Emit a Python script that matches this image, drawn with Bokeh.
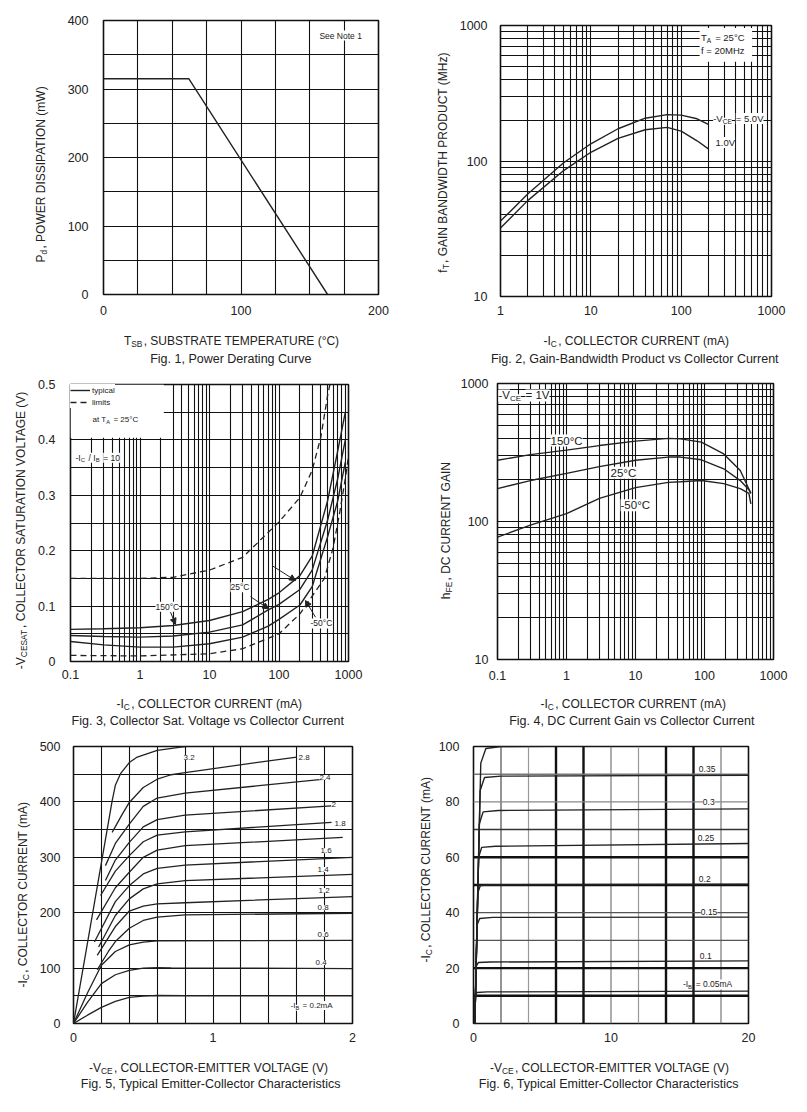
import math
from bokeh.plotting import figure
from bokeh.layouts import column, row
from bokeh.models import (Range1d, FixedTicker, CustomJSTickFormatter, Label, Arrow,
                          NormalHead, Legend, LegendItem, Span, BoxAnnotation)
from bokeh.core.properties import value
from bokeh.embed import file_html
from bokeh.resources import INLINE

FONT = "Liberation Sans"
INK = "#222222"
GRID = "#111111"

# ---------------- data ----------------
# Fig. 1  power derating
fig1_temp = [0, 62, 163]
fig1_pd = [315, 315, 0]
fig1_xticks = [0, 100, 200]
fig1_yticks = [0, 100, 200, 300, 400]

# Fig. 2  gain-bandwidth product
fig2_ic = [1, 2, 5, 10, 20, 40, 70, 100, 150, 200]
fig2_ft_5v = [36, 57, 97, 134, 173, 207, 220, 218, 205, 186]
fig2_ft_1v = [32, 51, 85, 116, 147, 170, 177, 166, 141, 123]
fig2_xticks = [1, 10, 100, 1000]
fig2_yticks = [10, 100, 1000]

# Fig. 3  collector saturation voltage
fig3_ic = [0.1, 0.3, 1, 3, 10, 30, 70, 100, 200, 300, 500, 700, 900]
fig3_v150 = [0.058, 0.059, 0.061, 0.065, 0.074, 0.090, 0.112, 0.124, 0.155, 0.190, 0.290, 0.380, 0.450]
fig3_v25 = [0.047, 0.045, 0.044, 0.046, 0.053, 0.066, 0.093, 0.103, 0.130, 0.165, 0.255, 0.330, 0.400]
fig3_vm50 = [0.036, 0.030, 0.026, 0.026, 0.032, 0.044, 0.064, 0.076, 0.102, 0.135, 0.225, 0.290, 0.360]
fig3_ic_max = [0.1, 1, 3, 10, 30, 100, 200, 300, 400, 500, 540]
fig3_v_max = [0.150, 0.150, 0.152, 0.165, 0.188, 0.252, 0.296, 0.345, 0.405, 0.480, 0.500]
fig3_ic_min = [0.1, 1, 10, 30, 100, 200, 300, 450, 600, 750, 900, 1000]
fig3_v_min = [0.011, 0.010, 0.014, 0.023, 0.050, 0.086, 0.118, 0.150, 0.205, 0.270, 0.330, 0.370]
fig3_xticks = [0.1, 1, 10, 100, 1000]
fig3_yticks = [0, 0.1, 0.2, 0.3, 0.4, 0.5]
fig3_arrow_from = [(2.75, 0.089), (38.9, 0.117), (79.8, 0.173), (335, 0.080)]
fig3_arrow_to = [(3.24, 0.067), (71, 0.095), (173, 0.146), (240, 0.110)]

# Fig. 4  DC current gain
fig4_ic = [0.1, 0.3, 1, 3, 10, 30, 45, 90, 190, 330, 440, 470]
fig4_h150 = [278, 305, 329, 355, 382, 400, 397, 376, 309, 234, 172, 160]
fig4_h25 = [173, 198, 223, 250, 278, 293, 293, 280, 241, 198, 170, 160]
fig4_hm50 = [77, 94, 114, 147, 176, 192, 194, 198, 188, 173, 160, 134]
fig4_xticks = [0.1, 1, 10, 100, 1000]
fig4_yticks = [10, 100, 1000]

# Fig. 5  output characteristics 0-2 V (IB in mA)
fig5_vce = [
    [0, 0.1, 0.2, 0.3, 0.4, 0.5, 0.6, 1.0, 2.0],
    [0, 0.1, 0.2, 0.3, 0.4, 0.5, 0.6, 0.7, 2.0],
    [0, 0.1, 0.2, 0.3, 0.4, 0.5, 0.6, 2.0],
    [0.17, 0.25, 0.3, 0.4, 0.5, 0.6, 0.8, 2.0],
    [0.17, 0.3, 0.4, 0.5, 0.6, 0.8, 2.0],
    [0.18, 0.3, 0.4, 0.5, 0.6, 0.8, 2.0],
    [0.15, 0.3, 0.4, 0.5, 0.6, 0.8, 2.0],
    [0.165, 0.3, 0.4, 0.5, 0.6, 0.8, 1.93],
    [0.194, 0.3, 0.4, 0.5, 0.6, 0.8, 1.85],
    [0.229, 0.3, 0.4, 0.5, 0.6, 0.8, 1.85],
    [0.229, 0.3, 0.4, 0.5, 0.6, 0.8, 1.8],
    [0.277, 0.35, 0.4, 0.5, 0.6, 0.7, 0.8, 1.6],
    [0, 0.277, 0.3, 0.337, 0.4, 0.457, 0.6, 0.77, 0.8],
]
fig5_ic = [
    [0, 15, 29, 40, 47, 49.5, 50.5, 50, 50],
    [0, 38, 72, 88, 96, 100, 101, 100.5, 99],
    [0, 55, 105, 130, 142, 147, 149, 150],
    [97, 130, 148, 172, 186, 192, 196, 199],
    [123, 175, 203, 212, 216, 218, 229],
    [138, 195, 225, 243, 252, 258, 269],
    [147, 220, 249, 270, 280, 286, 300],
    [187, 245, 273, 300, 313, 321, 336],
    [231, 275, 303, 328, 340, 346, 363],
    [258, 295, 327, 355, 368, 376, 393],
    [285, 325, 360, 392, 407, 416, 441],
    [345, 378, 399, 426, 441, 449, 453, 481],
    [0, 402, 430, 451, 471, 481, 493, 499, 500],
]
fig5_labels = ["3.2", "2.8", "2.4", "2", "1.8", "1.6", "1.4", "1.2", "0.8", "0.6", "0.4"]
fig5_label_v = [0.789, 1.613, 1.763, 1.849, 1.871, 1.771, 1.749, 1.756, 1.749, 1.749, 1.735]
fig5_label_i = [480, 480, 444, 395, 361, 312, 278, 240, 209, 161, 110]
fig5_xticks = [0, 1, 2]
fig5_yticks = [0, 100, 200, 300, 400, 500]

# Fig. 6  output characteristics 0-20 V (IB in mA)
fig6_vce = [
    [0.1, 0.13, 0.25, 1.0, 20],
    [0.1, 0.18, 0.35, 1.2, 20],
    [0.1, 0.25, 0.45, 1.4, 20],
    [0.1, 0.30, 0.50, 1.5, 20],
    [0.1, 0.37, 0.60, 1.6, 20],
    [0.1, 0.42, 0.70, 1.8, 20],
    [0.1, 0.48, 0.80, 2.0, 20],
    [0.1, 0.53, 0.90, 2.0, 20],
]
fig6_ic = [
    [0, 10.3, 11.2, 11.4, 11.7],
    [0, 20.5, 22.0, 22.2, 22.6],
    [0, 35.5, 37.9, 38.3, 38.4],
    [0, 47.0, 49.8, 50.1, 50.3],
    [0, 60.0, 63.6, 64.0, 65.0],
    [0, 72.0, 76.4, 76.9, 77.5],
    [0, 84.0, 88.8, 89.3, 89.6],
    [0, 94.0, 99.3, 100.0, 100.5],
]
fig6_labels = ["0.35", "0.3", "0.25", "0.2", "0.15", "0.1"]
fig6_label_v = [16.39, 16.68, 16.30, 16.39, 16.53, 16.46]
fig6_label_i = [91.7, 79.8, 67.1, 52.3, 40.4, 24.5]
fig6_xticks = [0, 10, 20]
fig6_yticks = [0, 20, 40, 60, 80, 100]
fig6_vgrid = [2, 4, 6, 8, 10, 12, 14, 16, 18]
fig6_hgrid = [10, 20, 30, 40, 50, 60, 70, 80, 90]

# ---------------- helpers ----------------
CW = {' ': 278, '!': 278, '(': 333, ')': 333, ',': 278, '-': 333, '.': 278, '/': 278,
      ':': 278, '=': 584, '°': 400}
for c in "0123456789":
    CW[c] = 556
CW.update(dict(zip("ABCDEFGHIJKLMNOPQRSTUVWXYZ",
                   [667, 667, 722, 722, 667, 611, 778, 722, 278, 500, 667, 556, 833, 722, 778,
                    667, 778, 722, 667, 611, 722, 667, 944, 667, 667, 611])))
CW.update(dict(zip("abcdefghijklmnopqrstuvwxyz",
                   [556, 556, 500, 556, 556, 278, 556, 556, 222, 222, 500, 222, 833, 556, 556,
                    556, 556, 333, 500, 278, 556, 500, 722, 500, 500, 500])))


def tw(s, size):
    return sum(CW.get(c, 556) for c in s) * size / 1000.0


def rich(p, x, y, segs, size=12.0, units="data", angle=0.0, center=False, bg=None,
         color=INK, sub_ratio=0.7, sub_shift=None):
    sub_size = size * sub_ratio
    if sub_shift is None:
        sub_shift = size * 0.28
    widths = [tw(t, sub_size if s else size) + (1.2 if s else 0.0) for t, s in segs]
    off = -sum(widths) / 2.0 if center else 0.0
    for (t, s), w in zip(segs, widths):
        fs = sub_size if s else size
        lead = len(t) - len(t.lstrip(" "))
        pos = off + tw(" " * lead, fs)
        if angle == 0.0:
            xo, yo = pos, (-sub_shift if s else 0.0)
        else:
            xo, yo = (sub_shift if s else 0.0), pos
        p.add_layout(Label(x=x, y=y, x_units=units, y_units=units, x_offset=xo, y_offset=yo,
                           text=t.lstrip(" "), angle=angle, text_font=FONT,
                           text_font_size="%.1fpx" % fs,
                           text_color=color, text_align="left", text_baseline="middle",
                           background_fill_color=bg))
        off += w


def centered(p, x, y, text, size=12.5):
    p.add_layout(Label(x=x, y=y, text=text, text_font=FONT, text_font_size="%.1fpx" % size,
                       text_color=INK, text_align="center", text_baseline="middle"))


PH, HP = 366, 324          # page-row height, plot-figure height
SH = PH - HP               # caption strip height
PAGE_W = 806


def text_fig(w, h):
    f = figure(width=w, height=h, x_range=Range1d(0, w), y_range=Range1d(0, h),
               x_axis_location=None, y_axis_location=None, output_backend="svg",
               toolbar_location=None, min_border=0)
    f.grid.visible = False
    f.outline_line_color = None
    f.background_fill_color = "white"
    f.border_fill_color = "white"
    return f


strips = [text_fig(PAGE_W, SH) for _ in range(3)]


class Panel:
    def __init__(self, spec, pwidth, xr, yr, xt="linear", yt="linear"):
        ox, oy, wl, fl, ft, fw, fh = spec
        self.ox, self.oy, self.wl = ox, oy, wl
        self.strip = strips[oy // PH]
        pw = pwidth - wl
        bl, bt = fl - (ox + wl), ft - oy
        br, bb = pw - bl - fw, HP - bt - fh
        p = figure(width=pw, height=HP, x_range=xr, y_range=yr, x_axis_type=xt, y_axis_type=yt,
                   output_backend="svg", toolbar_location=None,
                   min_border_left=bl, min_border_right=br, min_border_top=bt,
                   min_border_bottom=bb)
        p.outline_line_color = GRID
        p.outline_line_width = 1.6
        p.background_fill_color = "white"
        p.border_fill_color = "white"
        self.p = p
        self.ylab = text_fig(wl, HP)

    def titles(self, xseg, xc, xy, cap, capc, capy, yseg, yx, yc):
        by = self.oy + HP
        rich(self.strip, xc, SH - (xy - by), xseg, size=12, center=True)
        centered(self.strip, capc, SH - (capy - by), cap)
        rich(self.ylab, yx - self.ox, HP - (yc - self.oy), yseg, size=12,
             angle=math.pi / 2, center=True)

    def layout(self):
        return row(self.ylab, column(self.p))


def style_axes(p, xticks, yticks, xgrid, ygrid, xstand, ystand, grid=True):
    fmt = CustomJSTickFormatter(code="return String(tick);")
    p.xaxis.ticker = FixedTicker(ticks=xticks, minor_ticks=[])
    p.yaxis.ticker = FixedTicker(ticks=yticks, minor_ticks=[])
    for ax in list(p.xaxis) + list(p.yaxis):
        ax.formatter = fmt
        ax.axis_line_color = None
        ax.major_tick_line_color = None
        ax.minor_tick_line_color = None
        ax.major_tick_out = 0
        ax.major_tick_in = 0
        ax.minor_tick_out = 0
        ax.major_label_text_font = FONT
        ax.major_label_text_font_size = "12.5px"
        ax.major_label_text_color = INK
    p.xaxis.major_label_standoff = xstand
    p.yaxis.major_label_standoff = ystand
    if grid:
        p.xgrid.ticker = FixedTicker(ticks=xgrid)
        p.ygrid.ticker = FixedTicker(ticks=ygrid)
        p.grid.grid_line_color = GRID
        p.grid.grid_line_width = 1.1
    else:
        p.grid.visible = False


def logs(e0, e1):
    return [m * 10.0 ** e for e in range(e0, e1) for m in range(1, 10)] + [10.0 ** e1]


IC_X = [("-I", 0), ("C", 1), (", COLLECTOR CURRENT (mA)", 0)]
VCE_X = [("-V", 0), ("CE", 1), (", COLLECTOR-EMITTER VOLTAGE (V)", 0)]
LW, RW = 400, 406   # left / right column widths

# ---------------- Fig 1 ----------------
P1 = Panel((0, 0, 55, 103, 20, 275, 274), LW, Range1d(0, 200), Range1d(0, 400))
p1 = P1.p
style_axes(p1, fig1_xticks, fig1_yticks, list(range(0, 201, 25)), list(range(0, 401, 50)), 11, 15)
p1.line(fig1_temp, fig1_pd, line_color=INK, line_width=1.4)
p1.add_layout(Label(x=157, y=378, text="See Note 1", text_font=FONT, text_font_size="8.5px",
                    text_color=INK, text_baseline="middle", background_fill_color="white"))
P1.titles([("T", 0), ("SB", 1), (", SUBSTRATE TEMPERATURE (°C)", 0)], 232, 340,
          "Fig. 1,  Power Derating Curve", 232, 358,
          [("P", 0), ("d", 1), (", POWER DISSIPATION (mW)", 0)], 40, 173)

# ---------------- Fig 2 ----------------
P2 = Panel((400, 0, 55, 500, 25, 271, 271), RW, Range1d(1, 1000), Range1d(10, 1000), "log", "log")
p2 = P2.p
style_axes(p2, fig2_xticks, fig2_yticks, logs(0, 3), logs(1, 3), 9, 13)
p2.line(fig2_ic, fig2_ft_5v, line_color=INK, line_width=1.4)
p2.line(fig2_ic, fig2_ft_1v, line_color=INK, line_width=1.4)
p2.add_layout(BoxAnnotation(left=160, right=610, bottom=540, top=960, fill_color="white",
                            fill_alpha=1.0, line_color=None))
rich(p2, 166, 815, [("T", 0), ("A", 1), (" = 25°C", 0)], size=9.5, bg="white")
rich(p2, 166, 653, [("f = 20MHz", 0)], size=9.5, bg="white")
rich(p2, 226, 206, [("-V", 0), ("CE", 1), (" = 5.0V", 0)], size=9.5, bg="white")
rich(p2, 240, 137, [("1.0V", 0)], size=9.5, bg="white")
P2.titles(IC_X, 636, 340, "Fig. 2,  Gain-Bandwidth Product vs Collector Current", 636, 358,
          [("f", 0), ("T", 1), (", GAIN BANDWIDTH PRODUCT (MHz)", 0)], 442, 162)

# ---------------- Fig 3 ----------------
P3 = Panel((0, 366, 32, 70, 384, 278, 277), LW, Range1d(0.1, 1000), Range1d(0, 0.5), "log", "linear")
p3 = P3.p
style_axes(p3, fig3_xticks, fig3_yticks, logs(-1, 3), [i * 0.05 for i in range(11)], 8, 15)
r150 = p3.line(fig3_ic, fig3_v150, line_color=INK, line_width=1.4)
p3.line(fig3_ic, fig3_v25, line_color=INK, line_width=1.4)
p3.line(fig3_ic, fig3_vm50, line_color=INK, line_width=1.4)
rmax = p3.line(fig3_ic_max, fig3_v_max, line_color=INK, line_width=1.3, line_dash="6 4")
p3.line(fig3_ic_min, fig3_v_min, line_color=INK, line_width=1.3, line_dash="6 4")
p3.add_layout(BoxAnnotation(left=0.1, right=2.2, bottom=0.404, top=0.5, fill_color="white",
                            fill_alpha=1.0, line_color=None))
leg = Legend(items=[LegendItem(label=value("typical"), renderers=[r150]),
                    LegendItem(label=value("limits"), renderers=[rmax])],
             location="top_left", margin=0, padding=2, spacing=0, glyph_width=20,
             glyph_height=12, label_height=12, label_standoff=2,
             label_text_font=FONT, label_text_font_size="8px", label_text_color=INK,
             border_line_color=None, background_fill_color="white", background_fill_alpha=1.0)
p3.add_layout(leg)
rich(p3, 22, 242, [("at T", 0), ("A", 1), (" = 25°C", 0)], size=8, units="screen", bg="white")
rich(p3, 0.118, 0.368, [("-I", 0), ("C", 1), (" / I", 0), ("B", 1), (" = 10", 0)], size=8.5,
     bg="white")
for (xa, ya), (xb, yb) in zip(fig3_arrow_from, fig3_arrow_to):
    p3.add_layout(Arrow(x_start=xa, y_start=ya, x_end=xb, y_end=yb, line_color=INK,
                        line_width=1.0,
                        end=NormalHead(size=6, fill_color=INK, line_color=INK, line_width=1)))
rich(p3, 1.67, 0.099, [("150°C", 0)], size=8.5, bg="white")
rich(p3, 20, 0.134, [("25°C", 0)], size=8.5, bg="white")
rich(p3, 284, 0.0686, [("-50°C", 0)], size=8.5, bg="white")
P3.titles(IC_X, 209, 703, "Fig. 3,  Collector Sat. Voltage vs Collector Current", 209, 720,
          [("-V", 0), ("CESAT", 1), (", COLLECTOR SATURATION VOLTAGE (V)", 0)], 20, 528)

# ---------------- Fig 4 ----------------
P4 = Panel((400, 366, 55, 497, 383, 276, 276), RW, Range1d(0.1, 1000), Range1d(10, 1000), "log", "log")
p4 = P4.p
style_axes(p4, fig4_xticks, fig4_yticks, logs(-1, 3), logs(1, 3), 11, 9)
p4.line(fig4_ic, fig4_h150, line_color=INK, line_width=1.4)
p4.line(fig4_ic, fig4_h25, line_color=INK, line_width=1.4)
p4.line(fig4_ic, fig4_hm50, line_color=INK, line_width=1.4)
rich(p4, 0.103, 819, [("-V", 0), ("CE", 1), (" = 1V", 0)], size=11.5, bg="white")
rich(p4, 0.586, 386, [("150°C", 0)], size=11.5, bg="white")
rich(p4, 4.35, 226, [("25°C", 0)], size=11.5, bg="white")
rich(p4, 6.07, 131, [("-50°C", 0)], size=11.5, bg="white")
P4.titles(IC_X, 633, 703, "Fig. 4,  DC Current Gain vs Collector Current", 633, 720,
          [("h", 0), ("FE", 1), (", DC CURRENT GAIN", 0)], 445, 530)

# ---------------- Fig 5 ----------------
P5 = Panel((0, 732, 34, 73, 746, 279, 277), LW, Range1d(0, 2), Range1d(0, 500))
p5 = P5.p
style_axes(p5, fig5_xticks, fig5_yticks, [i * 0.2 for i in range(11)], list(range(0, 501, 50)), 9, 13)
p5.multi_line(fig5_vce, fig5_ic, line_color=INK, line_width=1.3)
for t, v, i in zip(fig5_labels, fig5_label_v, fig5_label_i):
    rich(p5, v, i, [(t, 0)], size=8, bg="white")
rich(p5, 1.556, 32.5, [("-I", 0), ("B", 1), (" = 0.2mA", 0)], size=8, bg="white")
P5.titles(VCE_X, 209, 1067, "Fig. 5,  Typical Emitter-Collector Characteristics", 212, 1083,
          [("-I", 0), ("C", 1), (", COLLECTOR CURRENT (mA)", 0)], 22, 894)

# ---------------- Fig 6 ----------------
P6 = Panel((400, 732, 35, 471, 746, 277, 277), RW, Range1d(0, 20), Range1d(0, 100))
p6 = P6.p
style_axes(p6, fig6_xticks, fig6_yticks, [], [], 9, 14, grid=False)
vg_w = [1.4, 1.2, 2.4, 2.4, 1.2, 1.2, 2.4, 2.4, 1.2]
vg_c = ["#666666", "#999999", "#111111", "#111111", "#777777", "#999999", "#111111", "#111111", "#777777"]
hg_w = [2.4, 2.4, 1.2, 1.2, 2.4, 2.4, 1.5, 1.2, 1.6]
hg_c = ["#111111", "#111111", "#555555", "#555555", "#111111", "#111111", "#333333", "#888888", "#777777"]
for loc, w, c in zip(fig6_vgrid, vg_w, vg_c):
    p6.add_layout(Span(location=loc, dimension="height", line_width=w, line_color=c, level="underlay"))
for loc, w, c in zip(fig6_hgrid, hg_w, hg_c):
    p6.add_layout(Span(location=loc, dimension="width", line_width=w, line_color=c, level="underlay"))
p6.multi_line(fig6_vce, fig6_ic, line_color=INK, line_width=1.4)
for t, v, i in zip(fig6_labels, fig6_label_v, fig6_label_i):
    rich(p6, v, i, [(t, 0)], size=8.5, bg="white")
rich(p6, 15.23, 14.1, [("-I", 0), ("B", 1), (" = 0.05mA", 0)], size=8.5, bg="white")
P6.titles(VCE_X, 610, 1067, "Fig. 6,  Typical Emitter-Collector Characteristics", 610, 1083,
          [("-I", 0), ("C", 1), (", COLLECTOR CURRENT (mA)", 0)], 425, 869)

layout = column(row(P1.layout(), P2.layout()), row(strips[0]),
                row(P3.layout(), P4.layout()), row(strips[1]),
                row(P5.layout(), P6.layout()), row(strips[2]))
open("out.html", "w").write(file_html(layout, INLINE))
